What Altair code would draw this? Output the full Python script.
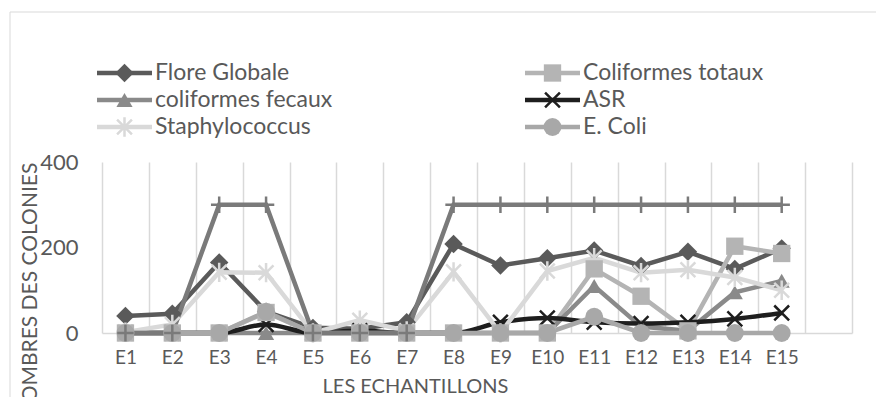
import altair as alt
import pandas as pd

# ---------------- data ----------------
categories = ["E1", "E2", "E3", "E4", "E5", "E6", "E7", "E8", "E9", "E10",
              "E11", "E12", "E13", "E14", "E15"]
x_domain = categories + [" "]

flore_globale = [40, 45, 165, 50, 12, 10, 25, 208, 158, 175, 193, 157, 190, 150, 198]
coliformes_totaux = [0, 0, 0, 48, 0, 0, 0, 0, 0, 0, 150, 86, 5, 203, 186]
coliformes_fecaux = [0, 0, 0, 0, 0, 0, 0, 0, 0, 0, 110, 15, 5, 95, 122]
asr = [0, 0, 0, 20, 0, 5, 0, 0, 25, 35, 25, 22, 25, 33, 47]
staphylococcus = [2, 20, 142, 141, 0, 30, 5, 143, 0, 145, 176, 141, 148, 130, 100]
e_coli = [0, 0, 0, 50, 0, 0, 0, 0, 0, 0, 38, 0, 0, 0, 0]
serie_7 = [0, 0, 300, 300, 0, 0, 0, 300, 300, 300, 300, 300, 300, 300, 300]

series_names = ["Flore Globale", "Coliformes totaux", "coliformes fecaux",
                "ASR", "Staphylococcus", "E. Coli", "Série 7"]
series_values = [flore_globale, coliformes_totaux, coliformes_fecaux,
                 asr, staphylococcus, e_coli, serie_7]
series_colors = ["#5a5a5a", "#b4b4b4", "#8a8a8a", "#1e1e1e", "#d9d9d9", "#a8a8a8", "#7a7a7a"]

# ---------------- styles ----------------
FONT = "Lato"
TXT = "#595959"
XPATH = "M-1,-1L1,1M-1,1L1,-1"
STAR = "M-1,-1L1,1M-1,1L1,-1M0,-1.3L0,1.3"
PLUS = "M0,-1L0,1M-1,0L1,0"
# shape, filled, size, marker stroke width
markers = [
    ("diamond", True, 340, 0),
    ("square", True, 300, 0),
    ("triangle-up", True, 260, 0),
    (XPATH, False, 220, 2.5),
    (STAR, False, 220, 2.5),
    ("circle", True, 320, 0),
    (PLUS, False, 270, 2.5),
]
interps = ["linear", "linear", "linear", "monotone", "linear", "linear", "linear"]
in_legend = [True, True, True, True, True, True, False]

x_axis = alt.Axis(
    title="LES ECHANTILLONS", tickBand="extent", grid=True, gridColor="#d9d9d9",
    gridWidth=1.5, ticks=False, domainColor="#d9d9d9", domainWidth=1.5,
    labelFont=FONT, labelFontSize=19, labelColor=TXT, labelPadding=15, labelAngle=0,
    titleFont=FONT, titleFontSize=20, titleFontWeight="normal", titleColor=TXT,
    titleX=313, titleY=59, titleAlign="center", titleBaseline="alphabetic",
)
y_axis = alt.Axis(
    values=[0, 200, 400], grid=False, domain=False, ticks=False, labelPadding=24,
    labelFont=FONT, labelFontSize=22, labelColor=TXT, labelFlush=False,
    title="NOMBRES DES COLONIES", titleFont=FONT, titleFontSize=21,
    titleFontWeight="normal", titleColor=TXT, titleAngle=270, titleX=-72, titleY=128,
    titleAlign="center", titleBaseline="middle",
)
x_enc = alt.X("cat:N", sort=x_domain, axis=x_axis,
              scale=alt.Scale(type="band", domain=x_domain, paddingInner=0, paddingOuter=0))
y_enc = alt.Y("value:Q", axis=y_axis, scale=alt.Scale(domain=[0, 400]))

frames = [pd.DataFrame({"cat": categories, "value": v}) for v in series_values]

line_layers = []
for df, col, interp in zip(frames, series_colors, interps):
    line_layers.append(
        alt.Chart(df).mark_line(color=col, strokeWidth=4.5, interpolate=interp)
        .encode(x=x_enc, y=y_enc)
    )

marker_order = [0, 2, 3, 4, 1, 5, 6]
marker_layers = []
for i in marker_order:
    shape, filled, size, sw = markers[i]
    kw = dict(shape=shape, filled=filled, size=size, color=series_colors[i], opacity=1)
    if not filled:
        kw["strokeWidth"] = sw
    marker_layers.append(alt.Chart(frames[i]).mark_point(**kw).encode(x=x_enc, y=y_enc))

# ---------------- legend (manual, Excel-like) ----------------
legend_layers = []
leg_col_x = [-5, 423]
leg_row_y = [-89, -62, -35]
idx = 0
for i, name in enumerate(series_names):
    if not in_legend[i]:
        continue
    cx = leg_col_x[idx % 2]
    ry = leg_row_y[idx // 2]
    idx += 1
    one = alt.Data(values=[{}])
    shape, filled, size, sw = markers[i]
    legend_layers.append(
        alt.Chart(one).mark_rule(color=series_colors[i], strokeWidth=4.5)
        .encode(x=alt.value(cx), x2=alt.value(cx + 55), y=alt.value(ry))
    )
    kw = dict(shape=shape, filled=filled, size=size, color=series_colors[i], opacity=1)
    if not filled:
        kw["strokeWidth"] = sw
    legend_layers.append(
        alt.Chart(one).mark_point(**kw).encode(x=alt.value(cx + 27.5), y=alt.value(ry))
    )
    legend_layers.append(
        alt.Chart(one).mark_text(align="left", baseline="middle", font=FONT,
                                 fontSize=23, color=TXT, text=name)
        .encode(x=alt.value(cx + 58), y=alt.value(ry))
    )

# chart-area border (top and left edges visible)
one = alt.Data(values=[{}])
border = [
    alt.Chart(one).mark_rule(color="#d9d9d9", strokeWidth=1)
    .encode(x=alt.value(-92), x2=alt.value(790), y=alt.value(-150)),
    alt.Chart(one).mark_rule(color="#d9d9d9", strokeWidth=1)
    .encode(x=alt.value(-92), y=alt.value(-150), y2=alt.value(260)),
]

chart = alt.layer(*line_layers, *marker_layers, *legend_layers, *border).properties(
    width=750, height=171,
    autosize=alt.AutoSizeParams(type="none"),
    padding={"left": 94, "top": 154, "right": 24, "bottom": 64},
    background="white",
).configure_view(stroke=None)

chart.save("out.html", embed_options={"renderer": "svg", "actions": False})
